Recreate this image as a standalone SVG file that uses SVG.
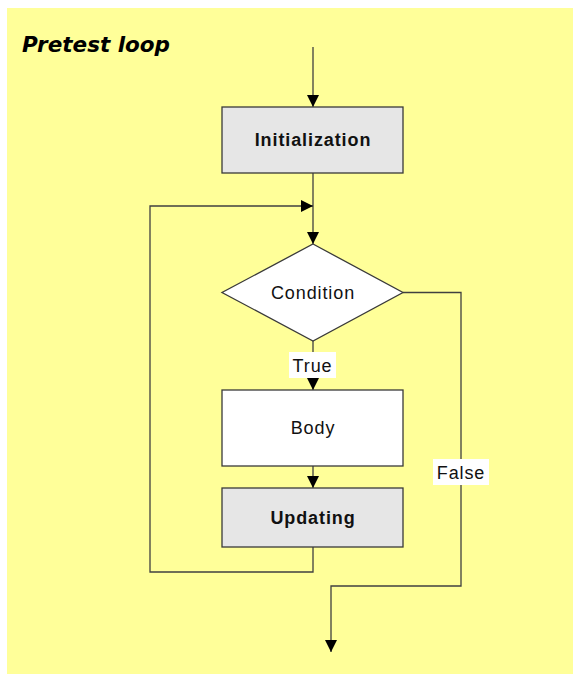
<svg xmlns="http://www.w3.org/2000/svg" width="573" height="674" viewBox="0 0 573 674">
  <style>
    .panel { fill: #ffff99; }
    .box { stroke: #3a3a3a; stroke-width: 1.3; }
    .step { fill: #e6e6e6; }
    .plain { fill: #ffffff; }
    .lbl { font-family: "Liberation Sans", Arial, sans-serif; font-size: 18px; letter-spacing: 0.9px; fill: #111111; text-anchor: middle; }
    .bold { font-weight: bold; }
    .wire { fill: none; stroke: #404040; stroke-width: 1.3; }
    .tagbg { fill: #ffffff; }
    .title { font-family: "DejaVu Sans", Verdana, sans-serif; font-size: 21.5px; font-weight: bold; font-style: italic; fill: #000000; }
  </style>
  <defs>
    <marker id="arrow" markerUnits="userSpaceOnUse" markerWidth="12" markerHeight="12" refX="12" refY="6" orient="auto">
      <path d="M0,0 L12,6 L0,12 z" fill="#000000"/>
    </marker>
  </defs>

  <rect class="panel" x="7" y="8" width="566" height="666"/>
  <text class="title" x="22" y="52">Pretest loop</text>

  <!-- connectors -->
  <g id="connectors">
    <path class="wire" d="M313,47 L313,107" marker-end="url(#arrow)"/>
    <path class="wire" d="M313,173 L313,244" marker-end="url(#arrow)"/>
    <path class="wire" d="M313,341 L313,390" marker-end="url(#arrow)"/>
    <path class="wire" d="M313,466 L313,488" marker-end="url(#arrow)"/>
    <path class="wire" d="M313,547 L313,572 L150,572 L150,206 L313,206" marker-end="url(#arrow)"/>
    <path class="wire" d="M403,292.5 L461,292.5 L461,586 L331,586 L331,652" marker-end="url(#arrow)"/>
    <g id="label-true">
      <rect class="tagbg" x="289" y="352" width="47" height="26"/>
      <text class="lbl" x="312.5" y="371.5">True</text>
    </g>
    <g id="label-false">
      <rect class="tagbg" x="433" y="459" width="56" height="26"/>
      <text class="lbl" x="461" y="479">False</text>
    </g>
  </g>

  <g id="initialization">
    <rect class="box step" x="222" y="107" width="181" height="66"/>
    <text class="lbl bold" x="313" y="146">Initialization</text>
  </g>

  <g id="condition">
    <polygon class="box plain" points="313,244 403,292.5 313,341 222,292.5"/>
    <text class="lbl" x="313" y="299">Condition</text>
  </g>

  <g id="body">
    <rect class="box plain" x="222" y="390" width="181" height="76"/>
    <text class="lbl" x="313" y="434">Body</text>
  </g>

  <g id="updating">
    <rect class="box step" x="222" y="488" width="181" height="59"/>
    <text class="lbl bold" x="313" y="524">Updating</text>
  </g>
</svg>
